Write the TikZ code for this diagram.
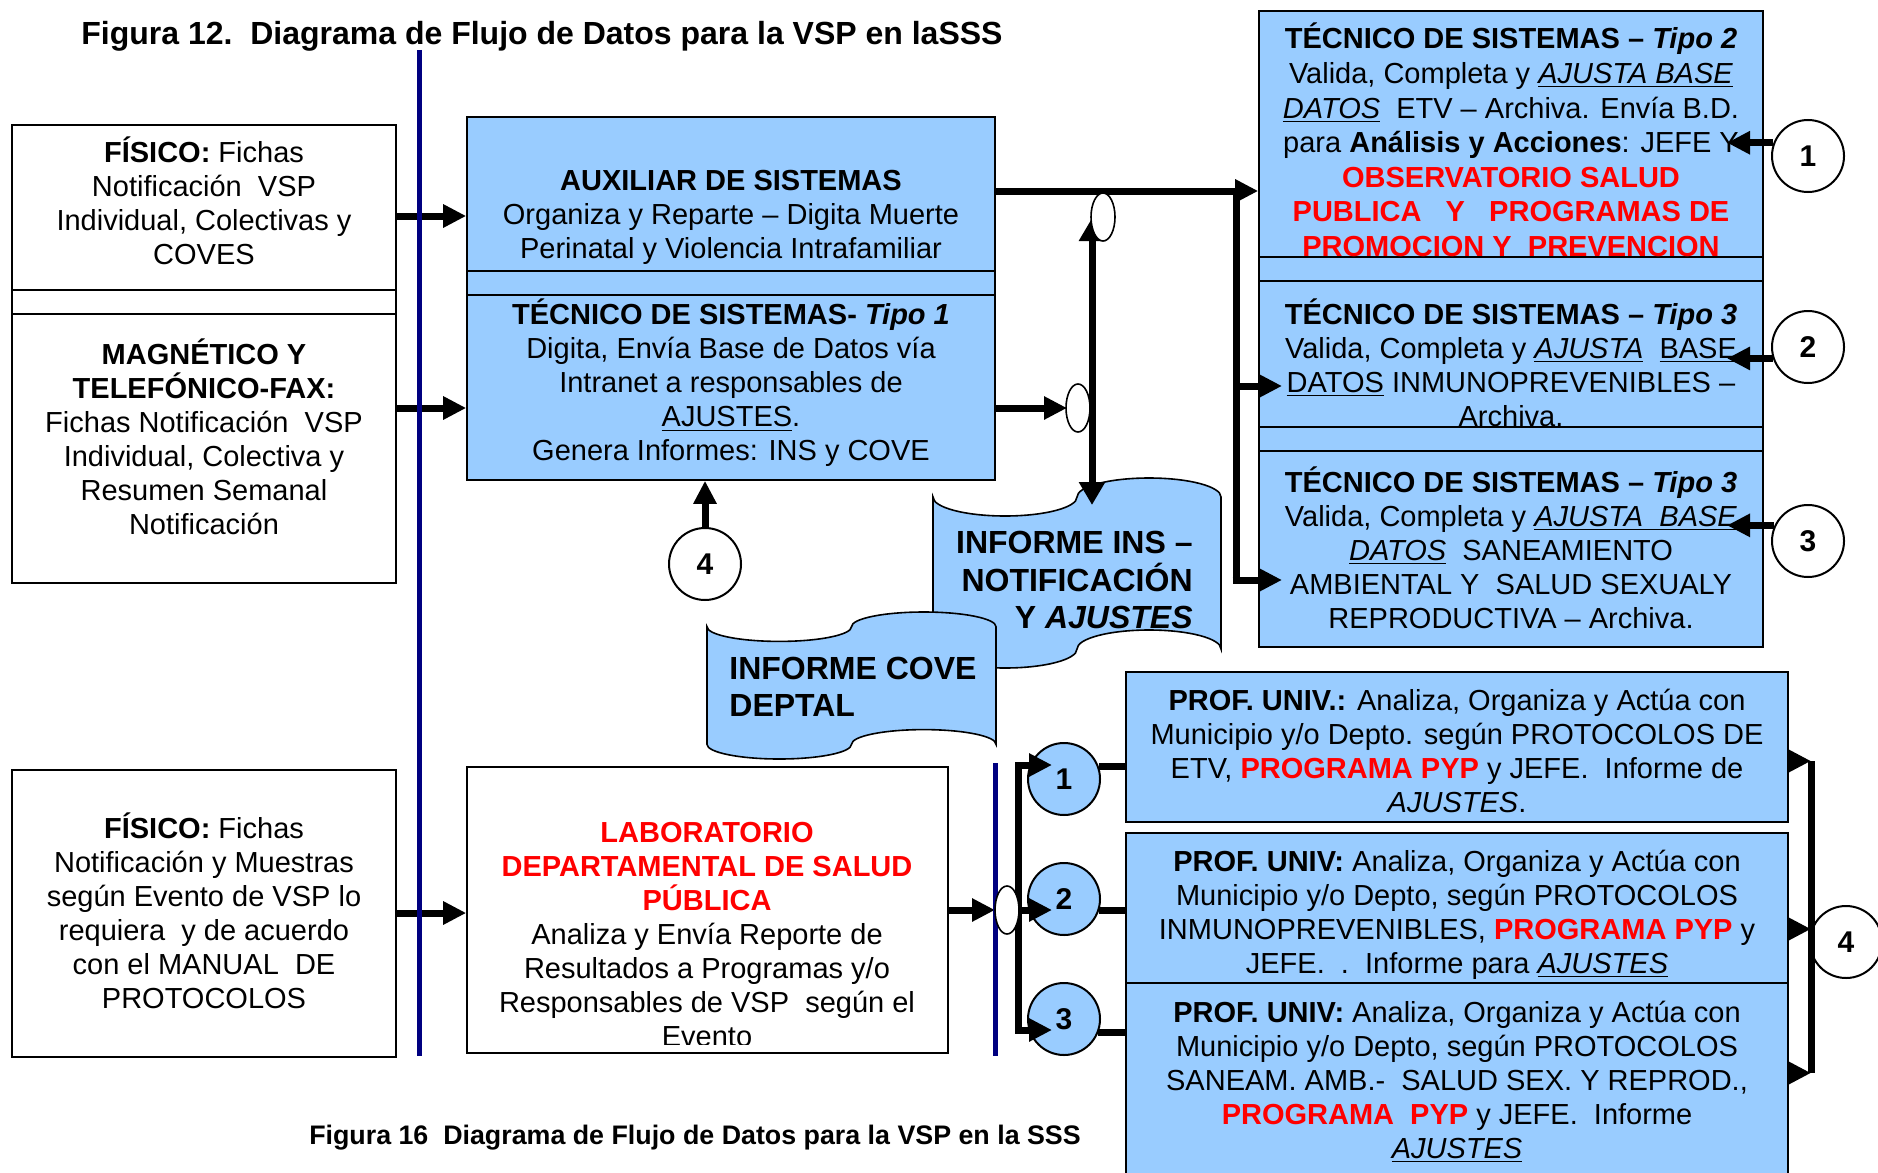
\documentclass[tikz,border=0pt]{standalone}
\usepackage{fontspec}
\setmainfont{Liberation Sans}
\usetikzlibrary{arrows.meta,fit,shapes.geometric}
\definecolor{boxblue}{HTML}{99CCFF}
\definecolor{navyline}{HTML}{000080}
\definecolor{alertred}{HTML}{FF0000}
\newcommand\redtext[1]{\textcolor{alertred}{#1}}
% punched-tape outline: #1 left x, #2 top of wave, #3 width, #4 height
\newcommand\tapepath[4]{%
  (#1,{#2+#4/10})
  arc[start angle=180,end angle=0,x radius={#3/4},y radius={#4/10}]
  arc[start angle=180,end angle=360,x radius={#3/4},y radius={#4/10}]
  -- ++(0,{0.8*#4})
  arc[start angle=0,end angle=-180,x radius={#3/4},y radius={#4/10}]
  arc[start angle=0,end angle=180,x radius={#3/4},y radius={#4/10}]
  -- cycle}
\tikzset{
  flowtip/.tip={Triangle[length=11.5pt,width=11pt]},
  widetip/.tip={Triangle[length=11.5pt,width=12.5pt]},
  frame/.style={draw=black,line width=0.8pt,inner sep=0pt},
  bluebox/.style={frame,fill=boxblue},
  whitebox/.style={frame,fill=white},
  txt/.style={align=center,inner sep=0pt,font=\fontsize{14.5}{17}\selectfont},
  widetxt/.style={txt,font=\fontsize{14.5}{17.3}\selectfont},
  bigtxt/.style={inner sep=0pt,font=\bfseries\fontsize{16}{18.75}\selectfont},
  flow/.style={line width=3.5pt,-flowtip},
  bar/.style={line width=3.5pt},
  divider/.style={navyline,line width=2.5pt},
  numring/.style={circle,draw=black,line width=1pt,fill=white,minimum size=36pt,
    inner sep=0pt,font=\bfseries\fontsize{15}{17}\selectfont},
  numdisc/.style={numring,fill=boxblue},
  jump/.style={ellipse,draw=black,line width=0.8pt,fill=white,minimum width=12pt,
    minimum height=24pt,inner sep=0pt},
  tape/.style={draw=black,line width=0.8pt,fill=boxblue}
}
\begin{document}
\begin{tikzpicture}[x=0.5pt,y=-0.5pt]
\useasboundingbox (0,0) rectangle (1878,1172);
\fill[white] (0,0) rectangle (1878,1172);

% captions
\node[anchor=west,inner sep=0pt,font=\bfseries\fontsize{16}{19}\selectfont] (title) at (81,36)
  {Figura 12.\ \ Diagrama de Flujo de Datos para la VSP en laSSS};
\node[inner sep=0pt,font=\bfseries\fontsize{13.4}{16}\selectfont] (caption) at (695,1138)
  {Figura 16\ \ Diagrama de Flujo de Datos para la VSP en la SSS};

% sources on the left
\node[whitebox,fit={(12,125)(396,290)}] (fis1) {};
\node[whitebox,fit={(12,290)(396,314)}] (fisband) {};
\node[whitebox,fit={(12,314)(396,583)}] (mag) {};
\node[whitebox,fit={(12,770)(396,1057)}] (fis2) {};
\node[txt] (fis1text) at (204,200.5) {\textbf{FÍSICO:} Fichas\\ Notificación\ \ VSP\\ Individual, Colectivas y\\ COVES};
\node[txt] (magtext) at (204,436.5) {\textbf{MAGNÉTICO Y}\\ \textbf{TELEFÓNICO-FAX:}\\ Fichas Notificación\ \ VSP\\ Individual, Colectiva y\\ Resumen Semanal\\ Notificación};
\node[txt] (fis2text) at (204,911) {\textbf{FÍSICO:} Fichas\\ Notificación y Muestras\\ según Evento de VSP lo\\ requiera\ \ y de acuerdo\\ con el MANUAL\ \ DE\\ PROTOCOLOS};

% central processing
\node[bluebox,fit={(467,117)(995,271)}] (aux) {};
\node[bluebox,fit={(467,271)(995,295)}] (auxband) {};
\node[bluebox,fit={(467,295)(995,480)}] (tec1) {};
\node[txt] (auxtext) at (731,217) {\textbf{AUXILIAR DE SISTEMAS}\\ Organiza y Reparte – Digita Muerte\\ Perinatal y Violencia Intrafamiliar};
\node[txt] (tec1text) at (731,383) {\textbf{TÉCNICO DE SISTEMAS- \textit{Tipo 1}}\\ Digita, Envía Base de Datos vía\\ Intranet a responsables de\\ \underline{AJUSTES}.\\ Genera Informes: INS y COVE};

\node[whitebox,fit={(467,767)(948,1053)}] (lab) {};
\begin{scope}
  \clip (467,767) rectangle (948,1044);
  \node[txt] (labtext) at (707,934.5) {\redtext{\textbf{LABORATORIO}}\\ \redtext{\textbf{DEPARTAMENTAL DE SALUD}}\\ \redtext{\textbf{PÚBLICA}}\\ Analiza y Envía Reporte de\\ Resultados a Programas y/o\\ Responsables de VSP\ \ según el\\ Evento};
\end{scope}

% technicians on the right
\node[bluebox,fit={(1259,11)(1763,257)}] (t2) {};
\node[bluebox,fit={(1259,257)(1763,281)}] (t2band) {};
\node[bluebox,fit={(1259,281)(1763,427)}] (t3a) {};
\node[bluebox,fit={(1259,427)(1763,451)}] (t3band) {};
\node[bluebox,fit={(1259,451)(1763,647)}] (t3b) {};
\begin{scope}
  \clip (1259,11) rectangle (1763,256);
  \node[widetxt] (t2text) at (1511,140) {\textbf{TÉCNICO DE SISTEMAS – \textit{Tipo 2}}\\
    Valida, Completa y \underline{\textit{AJUSTA BASE}}\\
    \underline{\textit{DATOS}}\ \ ETV – Archiva. Envía B.D.\\
    para \textbf{Análisis y Acciones}: JEFE Y\\
    \redtext{\textbf{OBSERVATORIO SALUD}}\\
    \redtext{\textbf{PUBLICA\ \ \ Y\ \ \ PROGRAMAS DE}}\\
    \redtext{\textbf{PROMOCION Y\ \ PREVENCION}}};
\end{scope}
\begin{scope}
  \clip (1259,281) rectangle (1763,426);
  \node[txt] (t3atext) at (1511,363) {\textbf{TÉCNICO DE SISTEMAS – \textit{Tipo 3}}\\
    Valida, Completa y \underline{\textit{AJUSTA}}\ \ \underline{BASE}\\
    \underline{DATOS} INMUNOPREVENIBLES –\\
    Archiva.};
\end{scope}
\node[txt] (t3btext) at (1511,547.5) {\textbf{TÉCNICO DE SISTEMAS – \textit{Tipo 3}}\\
  Valida, Completa y \underline{\textit{AJUSTA\ \ BASE}}\\
  \underline{\textit{DATOS}}\ \ SANEAMIENTO\\
  AMBIENTAL Y\ \ SALUD SEXUALY\\
  REPRODUCTIVA – Archiva.};

% university professionals
\node[bluebox,fit={(1126,672)(1788,822)}] (prof1) {};
\node[bluebox,fit={(1126,833)(1788,983)}] (prof2) {};
\node[bluebox,fit={(1126,983)(1788,1190)}] (prof3) {};
\node[txt] (prof1text) at (1457,751) {\textbf{PROF. UNIV.:} Analiza, Organiza y Actúa con\\
  Municipio y/o Depto. según PROTOCOLOS DE\\
  ETV, \redtext{\textbf{PROGRAMA PYP}} y JEFE.\ \ Informe de\\
  \textit{AJUSTES}.};
\node[txt] (prof2text) at (1457,914.5) {\textbf{PROF. UNIV:} Analiza, Organiza y Actúa con\\
  Municipio y/o Depto, según PROTOCOLOS\\
  INMUNOPREVENIBLES, \redtext{\textbf{PROGRAMA PYP}} y\\
  JEFE.\ \ .\ \ Informe para \underline{\textit{AJUSTES}}};
\node[txt] (prof3text) at (1457,1081.5) {\textbf{PROF. UNIV:} Analiza, Organiza y Actúa con\\
  Municipio y/o Depto, según PROTOCOLOS\\
  SANEAM. AMB.-\ \ SALUD SEX. Y REPROD.,\\
  \redtext{\textbf{PROGRAMA\ \ PYP}} y JEFE.\ \ Informe\\
  \underline{\textit{AJUSTES}}};

% numbered connectors
\node[numring] (r1) at (1808,156) {1};
\node[numring] (r2) at (1808,347) {2};
\node[numring] (r3) at (1808,541) {3};
\node[numring] (r4) at (705,564) {4};
\node[numring] (r5) at (1846,942) {4};
\node[numdisc] (d1) at (1064,779) {1};
\node[numdisc] (d2) at (1064,899) {2};
\node[numdisc] (d3) at (1064,1019) {3};

% reports
\draw[tape] \tapepath{933}{478}{288}{190};
\node[bigtxt,align=right,anchor=east] (instext) at (1193,580) {INFORME INS –\hspace{2.5pt}\\ NOTIFICACIÓN\\ Y \textit{AJUSTES}};
\draw[tape] \tapepath{707}{612}{289}{147};
\node[bigtxt,align=left,anchor=west] (covetext) at (729,687) {INFORME COVE\\ DEPTAL};

% free ends of the connectors
\coordinate (hubtop) at (1236,191);
\coordinate (hubbot) at (1236,580);
\coordinate (vtop) at (1092,218);
\coordinate (vbot) at (1092,505);
\coordinate (fanx) at (1018,0);
\coordinate (tipx) at (1052,0);
\coordinate (intip) at (1727,0);
\coordinate (deep) at (1282,0);
\coordinate (rbar) at (1811,0);

% inputs
\draw[flow] (fis1.east |- 0,216) -- (aux.west |- 0,216);
\draw[flow] (mag.east |- 0,408) -- (tec1.west |- 0,408);
\draw[flow] (fis2.east |- 0,913) -- (lab.west |- 0,913);

% distribution to the technicians
\draw[flow] (aux.east |- hubtop) -- (t2.west |- hubtop);
\draw[bar] (hubtop) -- (hubbot);
\draw[flow] (hubtop |- 0,386) -- (deep |- 0,386);
\draw[flow] ([xshift=-1.75pt]hubbot) -- (deep |- hubbot);
\draw[flow] (r1.159) -- (intip |- r1.159);
\draw[flow] (r2.198) -- (intip |- r2.198);
\draw[flow] (r3.155) -- (intip |- r3.155);

% reports and feedback
\draw[flow] (tec1.east |- 0,408) -- (1067,408);
\draw[line width=3.5pt,widetip-widetip] (vtop) -- (vbot);
\draw[flow] (r4.north) -- (r4.north |- tec1.south);

% laboratory fan-out
\draw[flow] (lab.east |- 0,910) -- (995,910);
\draw[line width=3.5pt,flowtip-flowtip] (tipx |- 0,765) -- (fanx |- 0,765) -- (fanx |- 0,1030) -- (tipx |- 0,1030);
\draw[flow] (fanx |- 0,910) -- (tipx |- 0,910);
\draw[bar] (d1.20) -- (prof1.west |- d1.20);
\draw[bar] (d2.-18) -- (prof2.west |- d2.-18);
\draw[bar] (d3.-22) -- (prof3.west |- d3.-22);

% collection into connector 4
\draw[bar] (rbar |- 0,761) -- (rbar |- 0,1073);
\draw[flow] (prof1.east |- 0,761) -- (rbar |- 0,761);
\draw[flow] (prof2.east |- 0,929) -- (rbar |- 0,929);
\draw[flow] (prof3.east |- 0,1073) -- (rbar |- 0,1073);

% swim-lane dividers
\draw[divider] (419,50) -- (419,1056);
\draw[divider] (995,763) -- (995,1056);

% line jumps
\node[jump] (j1) at (1103,217) {};
\node[jump] (j2) at (1078,408) {};
\node[jump] (j3) at (1007,910) {};
\end{tikzpicture}
\end{document}
